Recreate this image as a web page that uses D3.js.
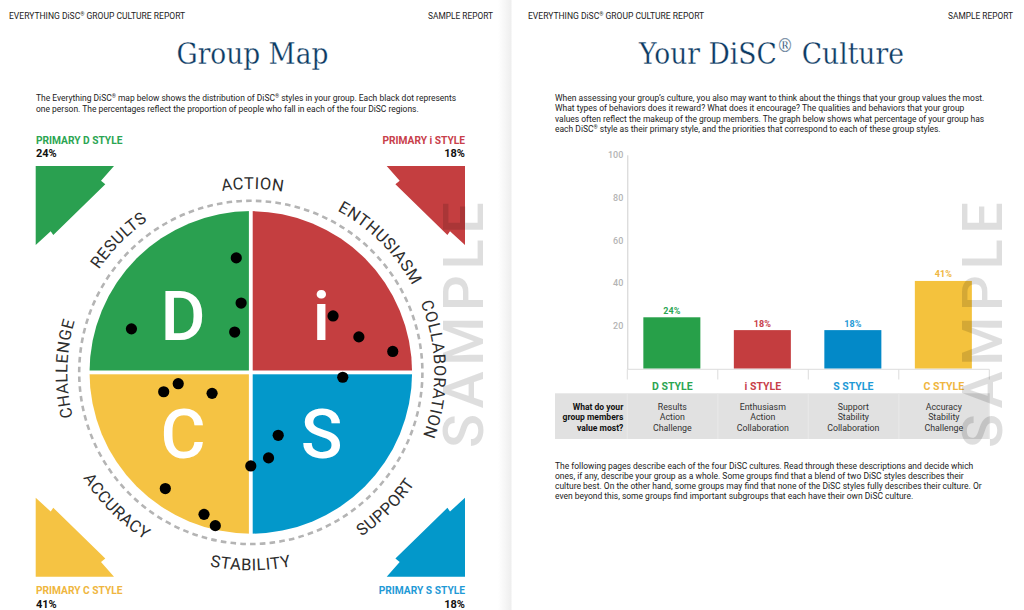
<!DOCTYPE html>
<html><head><meta charset="utf-8">
<script src="https://d3js.org/d3.v7.min.js"></script>
<style>html,body{margin:0;padding:0;background:#fff;overflow:hidden}svg{display:block}text{font-family:Roboto,sans-serif}</style>
</head><body><svg id="c" width="1024" height="610"></svg>
<script>
// ---------- data ----------
const styles = ["D STYLE", "i STYLE", "S STYLE", "C STYLE"];
const shares = [24, 18, 18, 41];
const shareLabels = ["24%", "18%", "18%", "41%"];
const yTicks = [20, 40, 60, 80, 100];
const barColors = ["#27a049", "#c43d3f", "#0389c8", "#f4c23d"];
const labelColors = ["#2ba552", "#c8404a", "#1f9ad6", "#efb640"];
const mapColors = ["#2aa050", "#c43e40", "#0398ca", "#f5c343"];
const priorities = [
  ["Results", "Action", "Challenge"],
  ["Enthusiasm", "Action", "Collaboration"],
  ["Support", "Stability", "Collaboration"],
  ["Accuracy", "Stability", "Challenge"]
];
const primaryLabels = ["PRIMARY D STYLE", "PRIMARY i STYLE", "PRIMARY C STYLE", "PRIMARY S STYLE"];
const primaryShares = ["24%", "18%", "41%", "18%"];
// dots, in map units (-100..100 across the circle; y up)
const dotX = [-9, -6, -10, -74, 51, 67, 88, 57, 17, 11, 0, -54, -45, -24, -53, -29, -22];
const dotY = [71, 43, 25, 27, 35, 22, 13, -3, -39, -53, -58, -12, -7, -13, -72, -88, -95];
const topWords = ["ACTION", "ENTHUSIASM", "COLLABORATION", "CHALLENGE", "RESULTS"];
const topAngles = [0.6, 45, 89, -88.8, -45];
const bottomWords = ["STABILITY", "SUPPORT", "ACCURACY"];
const bottomAngles = [180, 135, 225];

const svg = d3.select("#c");
const NAVY = "#0c3a63";

// page separation
const defs = svg.append("defs");
const g = defs.append("linearGradient").attr("id", "shade");
g.append("stop").attr("offset", 0).attr("stop-color", "#fff");
g.append("stop").attr("offset", 1).attr("stop-color", "#eeeeee");
svg.append("rect").attr("x", 498).attr("y", 0).attr("width", 13.5).attr("height", 610).attr("fill", "url(#shade)");

// text helper: o.fit sizes the font so the natural run of glyphs spans that many pixels
function t(x, y, s, o = {}) {
  const e = svg.append("text").attr("x", x).attr("y", y)
    .attr("font-size", o.size || 9).attr("fill", o.fill || "#222")
    .attr("text-anchor", o.anchor || "start").attr("font-weight", o.weight || 400);
  if (o.family) e.style("font-family", o.family);
  const parts = s.split("®");
  parts.forEach((p, i) => {
    e.append("tspan").text(p).attr("dy", i ? "0.38em" : null);
    if (i < parts.length - 1) e.append("tspan").text("®").attr("font-size", "62%").attr("dy", "-0.62em");
  });
  if (o.fit) {
    const w = e.node().getComputedTextLength();
    e.attr("font-size", (o.size || 9) * o.fit / w);
  }
  return e;
}

// headers
[[9, 493], [528, 1013]].forEach(p => {
  t(p[0], 19.3, "EVERYTHING DiSC® GROUP CULTURE REPORT", {fit: 176.5});
  t(p[1], 19, "SAMPLE REPORT", {anchor: "end", fit: 65});
});

// titles: the slab face is squeezed sideways to the reference's width
const slab = "'DejaVu Serif', serif";
[[176.5, "Group Map", 152], [639, "Your DiSC® Culture", 265]].forEach(d => {
  const e = t(0, 0, d[1], {size: 30.5, fill: NAVY, family: slab})
    .attr("stroke", "#fff").attr("stroke-width", 0.3);
  const k = d[2] / e.node().getComputedTextLength();
  e.attr("transform", `translate(${d[0]},64) scale(${k},1)`);
});

// paragraphs
const para1 = [["The Everything DiSC® map below shows the distribution of DiSC® styles in your group. Each black dot represents", 421],
  ["one person. The percentages reflect the proportion of people who fall in each of the four DiSC regions.", 383]];
para1.forEach((d, i) => t(36, 101 + i * 10.5, d[0], {fit: d[1]}));
const para2 = [["When assessing your group’s culture, you also may want to think about the things that your group values the most.", 430],
  ["What types of behaviors does it reward? What does it encourage? The qualities and behaviors that your group", 410],
  ["values often reflect the makeup of the group members. The graph below shows what percentage of your group has", 430],
  ["each DiSC® style as their primary style, and the priorities that correspond to each of these group styles.", 386]];
para2.forEach((d, i) => t(555, 101 + i * 10.3, d[0], {fit: d[1]}));
const para3 = [["The following pages describe each of the four DiSC cultures. Read through these descriptions and decide which", 419],
  ["ones, if any, describe your group as a whole. Some groups find that a blend of two DiSC styles describes their", 409],
  ["culture best. On the other hand, some groups may find that none of the DiSC styles fully describes their culture. Or", 427],
  ["even beyond this, some groups find important subgroups that each have their own DiSC culture.", 359]];
para3.forEach((d, i) => t(555, 468.5 + i * 10.3, d[0], {fit: d[1]}));

// ---------- DiSC map ----------
const cx = 250.8, cy = 372.4, R = 161.3;
const mx = d3.scaleLinear().domain([-100, 100]).range([cx - R, cx + R]);
const my = d3.scaleLinear().domain([-100, 100]).range([cy + R, cy - R]);
const map = svg.append("g");
const quarter = Math.PI / 2;
// D, i, S, C clockwise from the top-left
const arc = d3.arc().innerRadius(0).outerRadius(R);
[[-quarter, 0, 0], [0, quarter, 1], [quarter, 2 * quarter, 2], [2 * quarter, 3 * quarter, 3]].forEach(a => {
  map.append("path").attr("transform", `translate(${cx},${cy})`)
    .attr("d", arc({startAngle: a[0], endAngle: a[1]})).attr("fill", mapColors[a[2]]);
});
map.append("rect").attr("x", cx - 1.9).attr("y", cy - R - 2).attr("width", 3.8).attr("height", 2 * R + 4).attr("fill", "#fff");
map.append("rect").attr("x", cx - R - 2).attr("y", cy - 1.9).attr("width", 2 * R + 4).attr("height", 3.8).attr("fill", "#fff");
map.append("circle").attr("cx", cx).attr("cy", cy).attr("r", 171.6).attr("fill", "none")
  .attr("stroke", "#b4b4b4").attr("stroke-width", 2.6).attr("stroke-dasharray", "5.6 4.2");

// big letters
[["D", 183, 339.5], ["i", 321.3, 339.5], ["C", 183, 458.3], ["S", 321.7, 458.3]].forEach(d => {
  map.append("text").attr("x", d[1]).attr("y", d[2]).text(d[0]).attr("text-anchor", "middle")
    .attr("font-size", 69).attr("fill", "#fff").attr("font-weight", 500);
});

// dots
svg.append("g").selectAll("circle").data(dotX).join("circle")
  .attr("cx", d => mx(d)).attr("cy", (d, i) => my(dotY[i])).attr("r", 5.6).attr("fill", "#000");

// curved words
function curved(word, deg, r, clockwise, id) {
  const rad = deg * Math.PI / 180;
  const half = 1.5;
  const sweep = clockwise ? 1 : 0;
  const dir = clockwise ? 1 : -1;
  const a0 = rad - dir * half, a1 = rad + dir * half;
  const pt = a => [cx + r * Math.sin(a), cy - r * Math.cos(a)];
  const [x0, y0] = pt(a0), [x1, y1] = pt(a1);
  defs.append("path").attr("id", id).attr("d", `M${x0},${y0}A${r},${r} 0 0 ${sweep} ${x1},${y1}`);
  svg.append("text").attr("font-size", 16.5).attr("font-weight", 400).attr("fill", "#2d2d2d")
    .attr("letter-spacing", 0.55).attr("text-anchor", "middle")
    .append("textPath").attr("href", "#" + id).attr("startOffset", "50%").text(word);
}
topWords.forEach((w, i) => curved(w, topAngles[i], 183.5, true, "w" + i));
bottomWords.forEach((w, i) => curved(w, bottomAngles[i], 198, false, "b" + i));

// corner pennants, each drawn in one orientation then mirrored
const pennant = d3.line();
const shape = [[0, 0], [78.3, 0], [65.3, 14.7], [69.6, 18.3], [17.6, 69], [15, 65.3], [0, 79]];
[[35.7, 166, 1, 1, 0], [465, 166, -1, 1, 1], [35.7, 576.8, 1, -1, 3], [465, 576.8, -1, -1, 2]].forEach(c => {
  svg.append("path").attr("transform", `translate(${c[0]},${c[1]}) scale(${c[2]},${c[3]})`)
    .attr("d", pennant(shape) + "Z").attr("fill", mapColors[c[4]]);
});

// corner labels
t(36, 144, primaryLabels[0], {size: 10.5, weight: 700, fill: labelColors[0], fit: 86.5});
t(36, 157, primaryShares[0], {size: 11, weight: 700, fill: "#111"});
t(465, 144, primaryLabels[1], {size: 10.5, weight: 700, fill: labelColors[1], anchor: "end", fit: 82.5});
t(465, 157, primaryShares[1], {size: 11, weight: 700, fill: "#111", anchor: "end"});
t(36, 594, primaryLabels[2], {size: 10.5, weight: 700, fill: labelColors[3], fit: 86.5});
t(36, 608, primaryShares[2], {size: 11, weight: 700, fill: "#111"});
t(465, 594, primaryLabels[3], {size: 10.5, weight: 700, fill: labelColors[2], anchor: "end", fit: 86.5});
t(465, 608, primaryShares[3], {size: 11, weight: 700, fill: "#111", anchor: "end"});

// ---------- bar chart ----------
const y = d3.scaleLinear().domain([0, 100]).range([368.6, 154.8]);
const x = d3.scaleBand().domain(styles).range([627.3, 989.3]).paddingInner(0.37).paddingOuter(0.185);
svg.append("rect").attr("x", 555).attr("y", 393.3).attr("width", 434.3).attr("height", 45.7).attr("fill", "#e1e1e1");

const bars = svg.append("g");
bars.selectAll("rect").data(styles).join("rect")
  .attr("x", d => x(d) - 0.7).attr("width", x.bandwidth())
  .attr("y", (d, i) => y(shares[i])).attr("height", (d, i) => y(0) - y(shares[i]))
  .attr("fill", (d, i) => barColors[i]);
bars.selectAll("text").data(styles).join("text")
  .attr("x", d => x(d) - 0.7 + x.bandwidth() / 2).attr("y", (d, i) => y(shares[i]) - 3.5)
  .attr("text-anchor", "middle").attr("font-size", 9).attr("font-weight", 700)
  .attr("fill", (d, i) => labelColors[i]).text((d, i) => shareLabels[i]);

const yAxis = svg.append("g").attr("transform", "translate(627.3,0)")
  .call(d3.axisLeft(y).tickValues(yTicks).tickSize(0).tickPadding(4));
yAxis.select(".domain").attr("stroke", "#cfcfcf").attr("stroke-width", 1);
yAxis.selectAll("text").attr("font-size", 9).attr("font-weight", 500).attr("fill", "#b4b4b4").style("font-family", "Roboto");

// category baseline with bracket ticks
const xLine = svg.append("g");
xLine.append("line").attr("x1", 627.3).attr("x2", 989.3).attr("y1", 369.3).attr("y2", 369.3).attr("stroke", "#dcdcdc");
d3.range(5).forEach(i => {
  const px = 627.3 + i * x.step();
  xLine.append("line").attr("x1", px).attr("x2", px).attr("y1", 369.3).attr("y2", 379.5).attr("stroke", "#dcdcdc");
  svg.append("line").attr("x1", px).attr("x2", px).attr("y1", 393.3).attr("y2", 439).attr("stroke", "#e9e9e9");
});
svg.append("g").selectAll("text").data(styles).join("text")
  .attr("x", (d, i) => 672.3 + i * x.step()).attr("y", 390)
  .attr("text-anchor", "middle").attr("font-size", 10.5).attr("font-weight", 700)
  .attr("fill", (d, i) => labelColors[i]).text(d => d);

["What do your", "group members", "value most?"].forEach((s, i) => t(623.3, 410 + i * 10.3, s, {weight: 700, anchor: "end", fill: "#111", size: 8.55}));
priorities.forEach((p, j) => p.forEach((s, i) =>
  t(672.3 + j * x.step(), 410 + i * 10.3, s, {anchor: "middle", fill: "#333", size: 8.8})));

// SAMPLE watermarks
[483, 1002].forEach(px => {
  svg.append("text").attr("transform", `translate(${px},448) rotate(-90)`)
    .text("SAMPLE").attr("font-size", 56).attr("font-weight", 500).attr("fill", "#000").attr("fill-opacity", 0.13)
    .attr("textLength", 246).attr("lengthAdjust", "spacing");
});
</script></body></html>
